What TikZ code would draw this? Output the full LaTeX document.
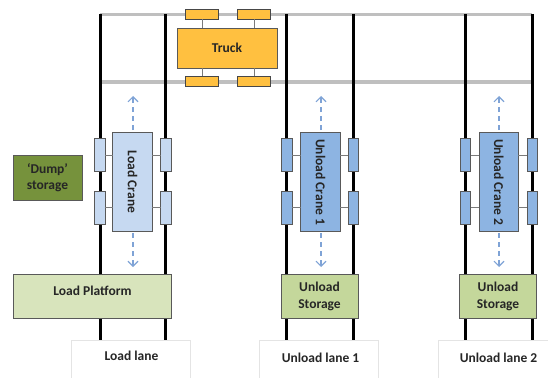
\documentclass[tikz,border=0pt]{standalone}
\usepackage{fontspec}
\setmainfont{Carlito}
\usetikzlibrary{arrows.meta,calc}
\definecolor{railgray}{HTML}{BFBFBF}
\definecolor{edgegray}{HTML}{595959}
\definecolor{truckc}{HTML}{FFC040}
\definecolor{lightcrane}{HTML}{C6D9F1}
\definecolor{darkcrane}{HTML}{8DB4E2}
\definecolor{dumpc}{HTML}{76923C}
\definecolor{platc}{HTML}{D8E4BC}
\definecolor{storc}{HTML}{C4D79B}
\definecolor{arrc}{HTML}{7FA3D6}
\definecolor{lanec}{HTML}{E4E4E4}
\tikzset{
  box/.style={draw=edgegray,line width=0.9pt,inner sep=0pt,outer sep=0pt,align=center,
    font=\fontsize{13.5}{16.5}\selectfont\bfseries,text=black!85},
  wheelbox/.style={box,draw=edgegray!80!black,fill=truckc,minimum width=32.5pt,minimum height=10pt},
  padl/.style={box,fill=lightcrane,minimum width=10.5pt,minimum height=33pt},
  padd/.style={box,fill=darkcrane,minimum width=10.5pt,minimum height=33pt},
  cranel/.style={box,fill=lightcrane,minimum width=39.5pt,minimum height=99pt},
  craned/.style={box,fill=darkcrane,minimum width=39.5pt,minimum height=99pt},
  lanebox/.style={draw=lanec,line width=0.8pt,fill=white,inner sep=0pt,outer sep=0pt,minimum width=119pt,minimum height=60pt},
  lanetext/.style={inner sep=0pt,font=\fontsize{13.5}{16}\selectfont\bfseries,text=black!85},
  rail/.style={line width=3pt,black},
  road/.style={railgray,line width=3.6pt},
  road2/.style={railgray,line width=4.4pt},
  link/.style={edgegray!80,line width=0.9pt},
  move/.style={arrc,line width=1.1pt,dash pattern=on 5pt off 4pt,-{Straight Barb[length=5pt,width=10pt,line width=1.1pt]}}
}
\begin{document}
\begin{tikzpicture}[x=1pt,y=-1pt]
\useasboundingbox (0,0) rectangle (548,377);
\clip (0,0) rectangle (548,377);
% free rail ends
\foreach \n/\x in {a/100,b/165.5,c/286.5,d/353,e/465.5,f/532}{
  \coordinate (top\n) at (\x,14);
  \coordinate (bot\n) at (\x,341);
}
\coordinate (roadAl) at (100,14.5);
\coordinate (roadAr) at (532,14.5);
\coordinate (roadBl) at (100,82);
\coordinate (roadBr) at (532,82);
\draw[road] (roadAl) -- (roadAr);
\draw[road2] (roadBl) -- (roadBr);
\foreach \n in {a,b,c,d,e,f}{\draw[rail] (top\n) -- (bot\n);}
% truck
\node[box,fill=truckc,minimum width=100pt,minimum height=40pt] (truck) at (227,48) {Truck};
\node[wheelbox] (w1) at (202,14.5) {};
\node[wheelbox] (w2) at (254,14.5) {};
\node[wheelbox] (w3) at (202,81) {};
\node[wheelbox] (w4) at (254,81) {};
\foreach \w in {w1,w2}{\draw[link] (\w.south) -- (\w.south |- truck.north);}
\foreach \w in {w3,w4}{\draw[link] (\w.north) -- (\w.north |- truck.south);}
% cranes
\node[cranel] (c1) at (132.5,182) {\rotatebox{-90}{Load Crane}};
\node[craned] (c2) at (320.5,182) {\rotatebox{-90}{Unload Crane 1}};
\node[craned] (c3) at (498.7,182) {\rotatebox{-90}{Unload Crane 2}};
\foreach \c/\st/\xl/\xr in {c1/padl/99.7/165.8,c2/padd/287/353.5,c3/padd/465.5/532.3}{
  \node[\st] (\c ul) at (\xl,155) {};
  \node[\st] (\c ur) at (\xr,155) {};
  \node[\st] (\c ll) at (\xl,207.5) {};
  \node[\st] (\c lr) at (\xr,207.5) {};
  \draw[link] (\c ul.east) -- (\c ul.east -| \c.west);
  \draw[link] (\c ll.east) -- (\c ll.east -| \c.west);
  \draw[link] (\c ur.west) -- (\c ur.west -| \c.east);
  \draw[link] (\c lr.west) -- (\c lr.west -| \c.east);
}
\foreach \c/\x in {c1/133,c2/321,c3/499}{
  \coordinate (\c up) at (\x,96);
  \coordinate (\c dn) at (\x,267);
  \draw[move] (\x,130) -- (\c up);
  \draw[move] (\x,233) -- (\c dn);
}
% storages
\node[box,fill=dumpc,minimum width=69pt,minimum height=44.5pt] (dump) at (47.5,177.7) {‘Dump’\\storage};
\node[box,fill=platc,minimum width=158pt,minimum height=44pt] (plat) at (92,296.5) {};
\node[lanetext] (plattext) at (92.5,291) {Load Platform};
\node[box,fill=storc,minimum width=77pt,minimum height=44pt] (s1) at (319.5,296.5) {Unload\\Storage};
\node[box,fill=storc,minimum width=77pt,minimum height=44pt] (s2) at (498,296.5) {Unload\\Storage};
% lanes
\node[lanebox] (l1) at (131,370) {};
\node[lanebox] (l2) at (319,370) {};
\node[lanebox] (l3) at (497.5,370) {};
\node[lanetext] (t1) at (131.5,356) {Load lane};
\node[lanetext] (t2) at (320.5,358) {Unload lane 1};
\node[lanetext] (t3) at (498.5,358) {Unload lane 2};
\end{tikzpicture}
\end{document}
